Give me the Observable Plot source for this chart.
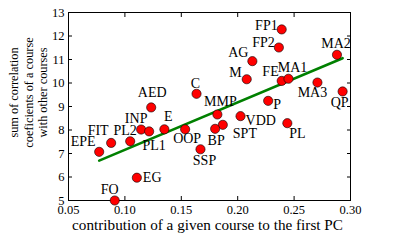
<!DOCTYPE html>
<html>
<head>
<meta charset="utf-8">
<script src="https://cdn.jsdelivr.net/npm/d3@7"></script>
<script src="https://cdn.jsdelivr.net/npm/@observablehq/plot@0.6"></script>
<style>
  html, body { margin: 0; padding: 0; background: white; }
</style>
</head>
<body>
<div id="chart"></div>
<script>
const courses = ["FP1","FP2","AG","M","FE","MA1","MA2","MA3","QP","P","MMP","VDD","PL","SPT","BP","SSP","C","OOP","E","AED","INP","PL1","PL2","FIT","EPE","EG","FO"];
const contribution = [0.239,0.2365,0.213,0.208,0.239,0.245,0.288,0.2707,0.293,0.227,0.182,0.2025,0.244,0.1868,0.180,0.167,0.1635,0.1534,0.135,0.1233,0.1144,0.1215,0.1047,0.0878,0.0772,0.1106,0.091];
const sumCorrelation = [12.28,11.51,10.93,10.16,10.09,10.18,11.20,10.02,9.64,9.24,8.66,8.59,8.29,8.22,8.05,7.18,9.54,8.03,8.03,8.96,8.02,7.94,7.52,7.45,7.07,5.97,5.00];

const xTicks = [0.05,0.10,0.15,0.20,0.25,0.30];
const xTickLabels = ["0.05","0.10","0.15","0.20","0.25","0.30"];
const yTicks = [5,6,7,8,9,10,11,12,13];
const yTickLabels = ["5","6","7","8","9","10","11","12","13"];

const xTitle = "contribution of a given course to the first PC";
const yTitleLines = ["sum of correlation", "coeficients of a course", "with other courses"];

// label placement relative to each point: [textAnchor, dx, dy]
const labelPlacement = {
  FP1: ["end", -4, -4], FP2: ["end", -4, -5], AG: ["end", -4, -9], M: ["end", -5, -7],
  FE: ["end", -3, -9], MA1: ["middle", 4, -11], MA2: ["middle", -1, -11], MA3: ["middle", -5, 10],
  QP: ["middle", -3, 11], P: ["start", 5, 4], MMP: ["middle", 3, -13], VDD: ["start", 5, 4],
  PL: ["start", 2, 10], SPT: ["start", 10, 9], BP: ["middle", 1, 12], SSP: ["middle", 4, 11],
  C: ["middle", -1, -10], OOP: ["middle", 2, 9], E: ["middle", 4, -13], AED: ["middle", 1, -15],
  INP: ["middle", -5, -11], PL1: ["middle", 5, 14], PL2: ["middle", -5, -11], FIT: ["middle", -13, -12],
  EPE: ["middle", -16, -10], EG: ["start", 6, 0], FO: ["middle", -5, -11]
};
// horizontal offset of each y-title line's baseline from the frame's left edge
const yTitleLineOffsets = [-50.5, -36, -22];

const data = courses.map((name, i) => ({name, x: contribution[i], y: sumCorrelation[i]}));

const labelMarks = data.map(d => {
  const [anchor, dx, dy] = labelPlacement[d.name];
  return Plot.text([d], {x: "x", y: "y", text: "name", textAnchor: anchor, dx, dy,
    lineAnchor: "middle", fontSize: 14, fill: "black"});
});

const yTitleMarks = yTitleLines.map((line, i) =>
  Plot.text([line], {frameAnchor: "left", text: d => d, rotate: -90,
    dx: yTitleLineOffsets[i], dy: -14, textAnchor: "middle", lineAnchor: "bottom",
    fontSize: 12.3, fill: "black"}));

const chart = Plot.plot({
  width: 406,
  height: 240,
  marginLeft: 68,
  marginRight: 56,
  marginTop: 12,
  marginBottom: 40,
  style: {fontFamily: "Liberation Serif", fontSize: "12.5px", background: "white", color: "black"},
  x: {domain: [0.05, 0.30]},
  y: {domain: [5, 13]},
  marks: [
    Plot.axisX(xTicks, {anchor: "bottom", tickSize: 0, tickPadding: 5, label: null,
      tickFormat: (d, i) => xTickLabels[i], fontSize: 12.5}),
    Plot.axisX(xTicks, {anchor: "bottom", tickSize: -4, label: null, tickFormat: () => ""}),
    Plot.axisX(xTicks, {anchor: "top", tickSize: -4, label: null, tickFormat: () => ""}),
    Plot.axisY(yTicks, {anchor: "left", tickSize: 0, tickPadding: 4, label: null,
      tickFormat: (d, i) => yTickLabels[i], fontSize: 12.5}),
    Plot.axisY(yTicks, {anchor: "left", tickSize: -4, label: null, tickFormat: () => ""}),
    Plot.axisY(yTicks, {anchor: "right", tickSize: -4, label: null, tickFormat: () => ""}),
    Plot.frame({stroke: "black", strokeWidth: 1}),
    Plot.linearRegressionY(data, {x: "x", y: "y", stroke: "#008000", strokeWidth: 2.6, ci: 0}),
    Plot.dot(data, {x: "x", y: "y", r: 4.6, fill: "#ff0000", stroke: "black", strokeWidth: 0.6}),
    ...labelMarks,
    Plot.text([xTitle], {frameAnchor: "bottom", text: d => d, dy: 24.6, dx: -2,
      lineAnchor: "middle", fontSize: 15.2, fill: "black"}),
    ...yTitleMarks
  ]
});
document.getElementById("chart").appendChild(chart);
</script>
</body>
</html>
